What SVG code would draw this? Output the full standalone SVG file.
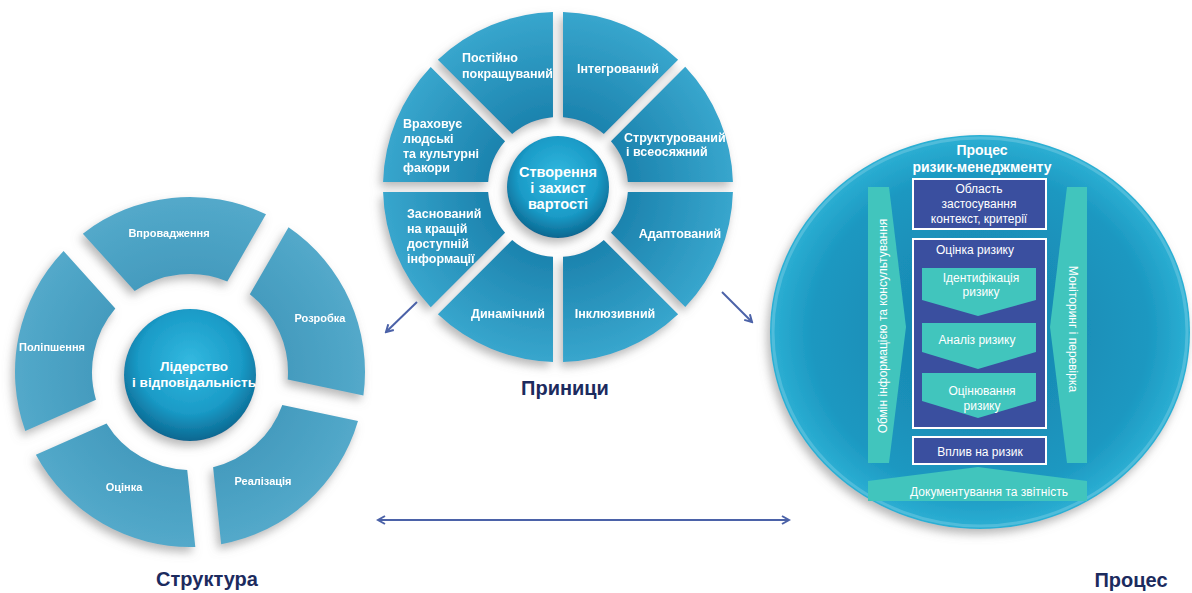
<svg xmlns="http://www.w3.org/2000/svg" width="1192" height="593" viewBox="0 0 1192 593">
  <defs>
    <style>
      text { font-family: "Liberation Sans", Arial, sans-serif; }
      .seg-t { fill: #ffffff; font-weight: bold; font-size: 12.5px; }
      .seg-c { fill: #ffffff; font-weight: bold; font-size: 12.5px; text-anchor: middle; }
      .seg-l { fill: #ffffff; font-weight: bold; font-size: 11px; text-anchor: middle; }
      .ball-t { fill: #ffffff; font-weight: bold; text-anchor: middle; }
      .caption { fill: #1c2b5e; font-weight: bold; font-size: 20px; text-anchor: middle; }
      .box { fill: #3a4f9f; stroke: #ffffff; stroke-width: 2; }
      .band { fill: #41c5bd; }
      .box-t { fill: #ffffff; font-size: 12px; text-anchor: middle; }
      .band-t { fill: #ffffff; font-size: 12px; text-anchor: middle; dominant-baseline: central; }
      .conn { stroke: #4b62a8; stroke-width: 2; fill: none; }
      .pseg { fill: url(#pFill); }
      .sseg { fill: url(#sFill); }
    </style>
    <filter id="shadow" x="-25%" y="-25%" width="150%" height="150%">
      <feDropShadow dx="-3" dy="5" stdDeviation="5" flood-color="#7d7d7d" flood-opacity="0.55"/>
    </filter>
    <radialGradient id="pFill" gradientUnits="userSpaceOnUse" cx="0" cy="0" r="175">
      <stop offset="0.4" stop-color="#1c83ae"/>
      <stop offset="1" stop-color="#38a6cd"/>
    </radialGradient>
    <radialGradient id="sFill" gradientUnits="userSpaceOnUse" cx="0" cy="0" r="175">
      <stop offset="0.55" stop-color="#449bbe"/>
      <stop offset="1" stop-color="#53a9ca"/>
    </radialGradient>
    <radialGradient id="ballFill" cx="50%" cy="40%" r="60%">
      <stop offset="0" stop-color="#33b9e0"/>
      <stop offset="0.65" stop-color="#1a9bc7"/>
      <stop offset="1" stop-color="#0b6790"/>
    </radialGradient>
    <radialGradient id="procFill" cx="50%" cy="50%" r="50%">
      <stop offset="0" stop-color="#1682ac"/>
      <stop offset="0.8" stop-color="#1c98c1"/>
      <stop offset="1" stop-color="#2cb0d4"/>
    </radialGradient>
    <marker id="head" viewBox="0 0 10 10" refX="8" refY="5" markerWidth="10" markerHeight="10" markerUnits="userSpaceOnUse" orient="auto-start-reverse">
      <path d="M1,1 L8,5 L1,9" fill="none" stroke="#4b62a8" stroke-width="2"/>
    </marker>
  </defs>

  <rect width="1192" height="593" fill="#ffffff"/>

  <!-- Principles wheel -->
  <g id="principles" transform="translate(558 187)">
    <g filter="url(#shadow)">
      <g id="p-adapted">
        <path class="pseg" d="M174.93,5.01 A175,175 0 0 1 127.27,120.11 L52.92,45.83 A70,70 0 0 0 69.82,5.00 Z"/>
        <text class="seg-c" x="122" y="51">Адаптований</text>
      </g>
      <g id="p-inclusive">
        <path class="pseg" d="M120.15,127.24 A175,175 0 0 1 5.06,174.93 L5.01,69.83 A70,70 0 0 0 45.84,52.91 Z"/>
        <text class="seg-c" x="57" y="131">Інклюзивний</text>
      </g>
      <g id="p-dynamic">
        <path class="pseg" d="M-5.01,174.93 A175,175 0 0 1 -120.11,127.27 L-45.83,52.92 A70,70 0 0 0 -5.00,69.82 Z"/>
        <text class="seg-c" x="-50" y="131">Динамічний</text>
      </g>
      <g id="p-best-info">
        <path class="pseg" d="M-127.24,120.15 A175,175 0 0 1 -174.93,5.06 L-69.83,5.01 A70,70 0 0 0 -52.91,45.84 Z"/>
        <text class="seg-t" x="-151" y="31">Заснований</text>
        <text class="seg-t" x="-151" y="46">на кращій</text>
        <text class="seg-t" x="-151" y="61">доступній</text>
        <text class="seg-t" x="-151" y="76">інформації</text>
      </g>
      <g id="p-human">
        <path class="pseg" d="M-174.93,-5.01 A175,175 0 0 1 -127.27,-120.11 L-52.92,-45.83 A70,70 0 0 0 -69.82,-5.00 Z"/>
        <text class="seg-t" x="-155" y="-59">Враховує</text>
        <text class="seg-t" x="-155" y="-44">людські</text>
        <text class="seg-t" x="-155" y="-29">та культурні</text>
        <text class="seg-t" x="-155" y="-15">факори</text>
      </g>
      <g id="p-improved">
        <path class="pseg" d="M-120.15,-127.24 A175,175 0 0 1 -5.06,-174.93 L-5.01,-69.83 A70,70 0 0 0 -45.84,-52.91 Z"/>
        <text class="seg-t" x="-96" y="-125">Постійно</text>
        <text class="seg-t" x="-96" y="-109">покращуваний</text>
      </g>
      <g id="p-integrated">
        <path class="pseg" d="M5.01,-174.93 A175,175 0 0 1 120.11,-127.27 L45.83,-52.92 A70,70 0 0 0 5.00,-69.82 Z"/>
        <text class="seg-c" x="60" y="-114">Інтегрований</text>
      </g>
      <g id="p-structured">
        <path class="pseg" d="M127.24,-120.15 A175,175 0 0 1 174.93,-5.06 L69.83,-5.01 A70,70 0 0 0 52.91,-45.84 Z"/>
        <text class="seg-t" x="66" y="-45">Структурований</text>
        <text class="seg-t" x="68" y="-31">і всеосяжний</text>
      </g>
    </g>
    <g id="p-core">
      <circle cx="0" cy="0" r="51" fill="url(#ballFill)" filter="url(#shadow)"/>
      <text class="ball-t" font-size="14.5" x="0" y="-10">Створення</text>
      <text class="ball-t" font-size="14.5" x="0" y="6">і захист</text>
      <text class="ball-t" font-size="14.5" x="0" y="22">вартості</text>
    </g>
  </g>
  <text id="principles-caption" class="caption" x="565" y="395">Приници</text>

  <!-- Framework wheel -->
  <g id="framework" transform="translate(190 372)">
    <g filter="url(#shadow)">
      <g id="f-integration">
        <path class="sseg" d="M-107.14,-138.37 A175,175 0 0 1 76.00,-157.64 L37.31,-90.62 A98,98 0 0 0 -55.34,-80.88 Z"/>
        <text class="seg-l" x="-21" y="-135">Впровадження</text>
      </g>
      <g id="f-design">
        <path class="sseg" d="M98.53,-144.64 A175,175 0 0 1 173.41,23.57 L97.71,7.48 A98,98 0 0 0 59.82,-77.63 Z"/>
        <text class="seg-l" x="130" y="-50">Розробка</text>
      </g>
      <g id="f-implementation">
        <path class="sseg" d="M168.00,49.00 A175,175 0 0 1 31.17,172.20 L23.08,95.25 A98,98 0 0 0 92.31,32.91 Z"/>
        <text class="seg-l" x="73" y="113">Реалізація</text>
      </g>
      <g id="f-evaluation">
        <path class="sseg" d="M5.31,174.92 A175,175 0 0 1 -154.14,82.86 L-83.47,51.38 A98,98 0 0 0 -2.77,97.96 Z"/>
        <text class="seg-l" x="-66" y="119">Оцінка</text>
      </g>
      <g id="f-improvement">
        <path class="sseg" d="M-164.71,59.12 A175,175 0 0 1 -126.42,-121.01 L-74.66,-63.49 A98,98 0 0 0 -94.02,27.64 Z"/>
        <text class="seg-l" x="-138" y="-21">Поліпшення</text>
      </g>
    </g>
    <g id="f-core">
      <circle cx="0" cy="3" r="66" fill="url(#ballFill)" filter="url(#shadow)"/>
      <text class="ball-t" font-size="13.5" x="4" y="-1">Лідерство</text>
      <text class="ball-t" font-size="13.5" x="4" y="15">і відповідальність</text>
    </g>
  </g>
  <text id="framework-caption" class="caption" x="207" y="586">Структура</text>

  <!-- Process circle -->
  <g id="process">
    <ellipse cx="980" cy="332" rx="210" ry="197" fill="url(#procFill)" filter="url(#shadow)"/>
    <ellipse cx="980" cy="332" rx="207" ry="194" fill="none" stroke="#ffffff" stroke-opacity="0.18" stroke-width="3"/>
    <text class="ball-t" font-size="14" x="982" y="155">Процес</text>
    <text class="ball-t" font-size="14" x="982" y="172">ризик-менеджменту</text>

    <g id="pr-communication">
      <polygon class="band" points="868,187 889,187 906,327 889,463 868,463"/>
      <text class="band-t" transform="translate(883 326) rotate(-90)">Обмін інформацією та консультування</text>
    </g>
    <g id="pr-monitoring">
      <polygon class="band" points="1067,187 1087,187 1087,463 1067,463 1050,327"/>
      <text class="band-t" transform="translate(1073 329) rotate(90)">Моніторинг і перевірка</text>
    </g>

    <g id="pr-scope">
      <rect class="box" x="913" y="179" width="133" height="50"/>
      <text class="box-t" x="979" y="193">Область</text>
      <text class="box-t" x="979" y="208">застосування</text>
      <text class="box-t" x="979" y="223">контекст, критерії</text>
    </g>

    <g id="pr-assessment">
      <rect class="box" x="913" y="239" width="133" height="189"/>
      <text class="box-t" font-size="12.5" x="975" y="254">Оцінка ризику</text>
      <g id="pr-identification">
        <polygon class="band" points="922,268 1036,268 1036,300 978,316 922,300"/>
        <text class="box-t" x="981" y="282">Ідентифікація</text>
        <text class="box-t" x="981" y="296">ризику</text>
      </g>
      <g id="pr-analysis">
        <polygon class="band" points="922,323 1036,323 1036,352 978,369 922,352"/>
        <text class="box-t" x="977" y="344">Аналіз ризику</text>
      </g>
      <g id="pr-evaluation">
        <polygon class="band" points="922,373 1036,373 1036,401 978,418 922,401"/>
        <text class="box-t" x="982" y="395">Оцінювання</text>
        <text class="box-t" x="982" y="410">ризику</text>
      </g>
    </g>

    <g id="pr-treatment">
      <rect class="box" x="913" y="437" width="133" height="27"/>
      <text class="box-t" x="980" y="456">Вплив на ризик</text>
    </g>

    <g id="pr-recording">
      <polygon class="band" points="868,481 978,467 1087,481 1087,501 868,501"/>
      <text class="box-t" x="989" y="496">Документування та звітність</text>
    </g>
  </g>
  <text id="process-caption" class="caption" x="1131" y="587">Процес</text>

  <!-- Connectors -->
  <g id="connectors">
    <line class="conn" x1="417" y1="302" x2="386" y2="332" marker-end="url(#head)"/>
    <line class="conn" x1="722" y1="292" x2="752" y2="322" marker-end="url(#head)"/>
    <line class="conn" x1="378" y1="520" x2="789" y2="520" marker-start="url(#head)" marker-end="url(#head)"/>
  </g>
</svg>
